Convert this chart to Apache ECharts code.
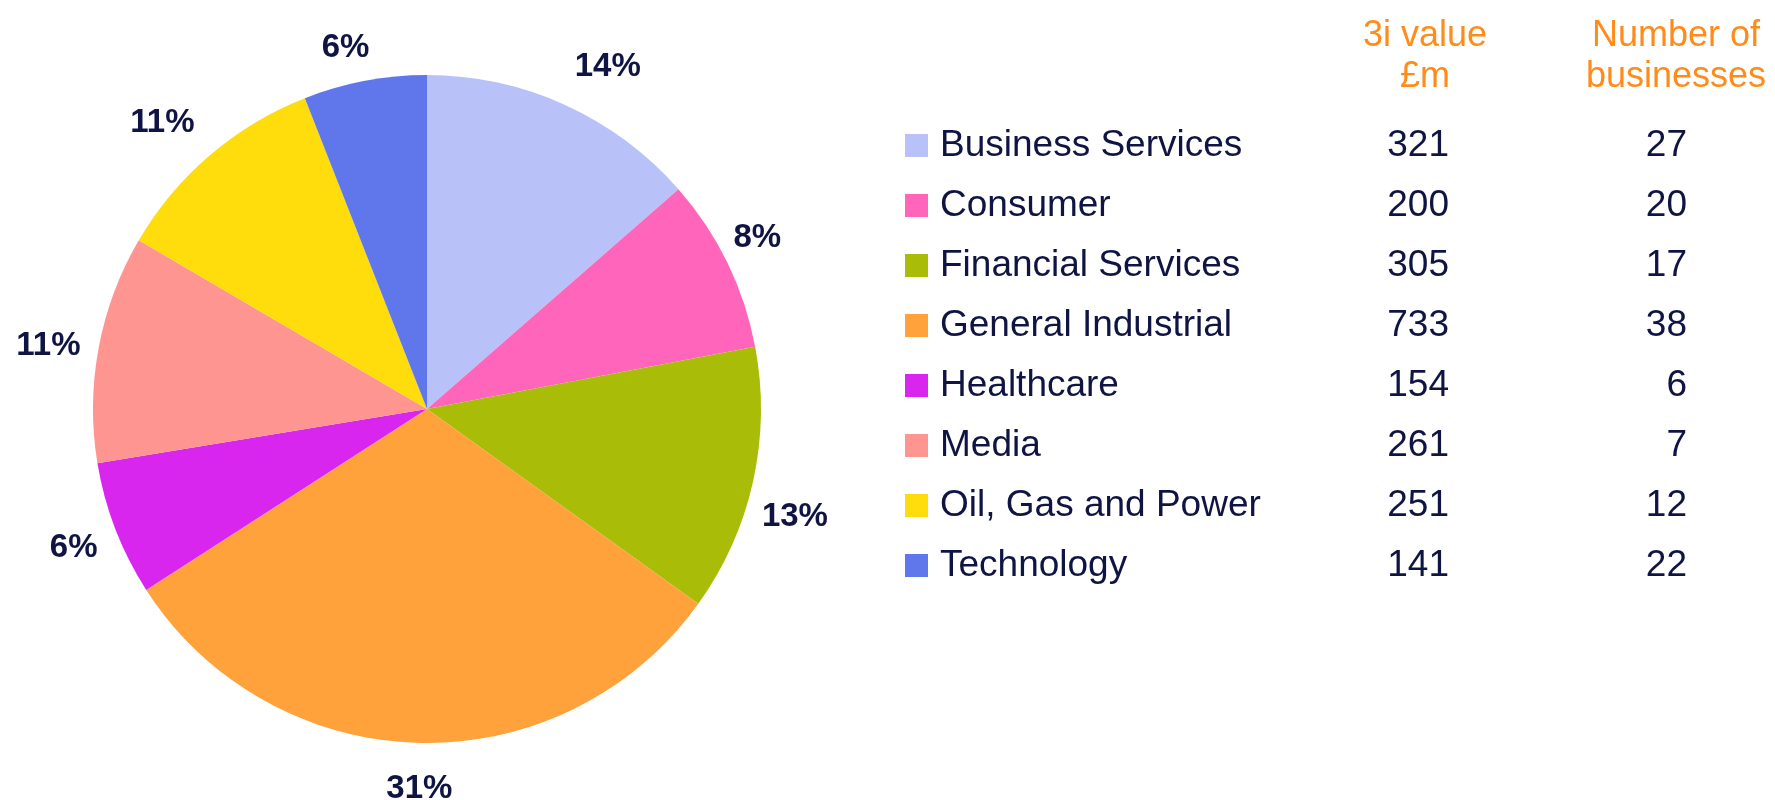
<!DOCTYPE html>
<html>
<head>
<meta charset="utf-8">
<script src="https://cdn.jsdelivr.net/npm/echarts@6/dist/echarts.min.js"></script>
<style>
  html, body { margin: 0; padding: 0; background: #fff; }
  #chart { width: 1775px; height: 800px; }
</style>
</head>
<body>
<div id="chart"></div>
<script>
// sectors, 3i value (£m), number of businesses, printed percentages
var sectors = ["Business Services", "Consumer", "Financial Services", "General Industrial",
  "Healthcare", "Media", "Oil, Gas and Power", "Technology"];
var values = [321, 200, 305, 733, 154, 261, 251, 141];
var businesses = [27, 20, 17, 38, 6, 7, 12, 22];
var percentLabels = ["14%", "8%", "13%", "31%", "6%", "11%", "11%", "6%"];
var colors = ["#b8c2f8", "#ff66bb", "#a8bc08", "#ffa23c", "#d926ef", "#ff9590", "#ffdc0c", "#6077ec"];
// nudges for the percentage labels (the original uses best-fit placement)
var labelNudge = [[22, 8], [-15, -3], [-7, 25], [2, -4], [5, 1], [-1, 7], [-15, 6], [-10, 16]];

var navy = "#0f1442";
var orange = "#ff8c1a";
var font = "Liberation Sans";

var myChart = echarts.init(document.getElementById("chart"));

var pieData = sectors.map(function (name, i) {
  return { name: name, value: values[i], itemStyle: { color: colors[i] } };
});

var labelData = sectors.map(function (name, i) {
  return {
    name: name,
    value: values[i],
    label: { formatter: percentLabels[i], offset: labelNudge[i] }
  };
});

var option = {
  animation: false,
  legend: {
    orient: "vertical",
    left: 900,
    top: 122,
    itemWidth: 23,
    itemHeight: 23,
    itemGap: 23,
    icon: "rect",
    selectedMode: false,
    data: sectors,
    formatter: function (name) {
      var i = sectors.indexOf(name);
      return "{g| }{n|" + name + "}{v|" + values[i] + "}{b|" + businesses[i] + "}";
    },
    textStyle: {
      fontFamily: font,
      fontSize: 37,
      color: navy,
      lineHeight: 37,
      rich: {
        g: { width: 7, fontSize: 37, lineHeight: 37 },
        n: { width: 428, fontSize: 37, lineHeight: 37, fontFamily: font, color: navy },
        v: { width: 81, align: "right", fontSize: 37, lineHeight: 37, fontFamily: font, color: navy },
        b: { width: 238, align: "right", fontSize: 37, lineHeight: 37, fontFamily: font, color: navy }
      }
    }
  },
  graphic: [
    {
      type: "text",
      x: 1425,
      y: 16,
      style: {
        text: "3i value\n£m",
        align: "center",
        verticalAlign: "top",
        fill: orange,
        fontFamily: font,
        fontSize: 36,
        lineHeight: 41
      }
    },
    {
      type: "text",
      x: 1676,
      y: 16,
      style: {
        text: "Number of\nbusinesses",
        align: "center",
        verticalAlign: "top",
        fill: orange,
        fontFamily: font,
        fontSize: 36,
        lineHeight: 41
      }
    }
  ],
  series: [
    {
      type: "pie",
      center: [427, 409],
      radius: [0, 334],
      startAngle: 90,
      clockwise: true,
      silent: true,
      label: { show: false },
      labelLine: { show: false },
      itemStyle: { borderWidth: 0 },
      data: pieData
    },
    {
      type: "pie",
      center: [427, 409],
      radius: [334, 428],
      startAngle: 90,
      clockwise: true,
      silent: true,
      itemStyle: { color: "rgba(0,0,0,0)", borderWidth: 0 },
      label: {
        show: true,
        position: "inside",
        fontFamily: font,
        fontWeight: "bold",
        fontSize: 33,
        color: navy
      },
      labelLine: { show: false },
      data: labelData
    }
  ]
};

option && myChart.setOption(option);
</script>
</body>
</html>
